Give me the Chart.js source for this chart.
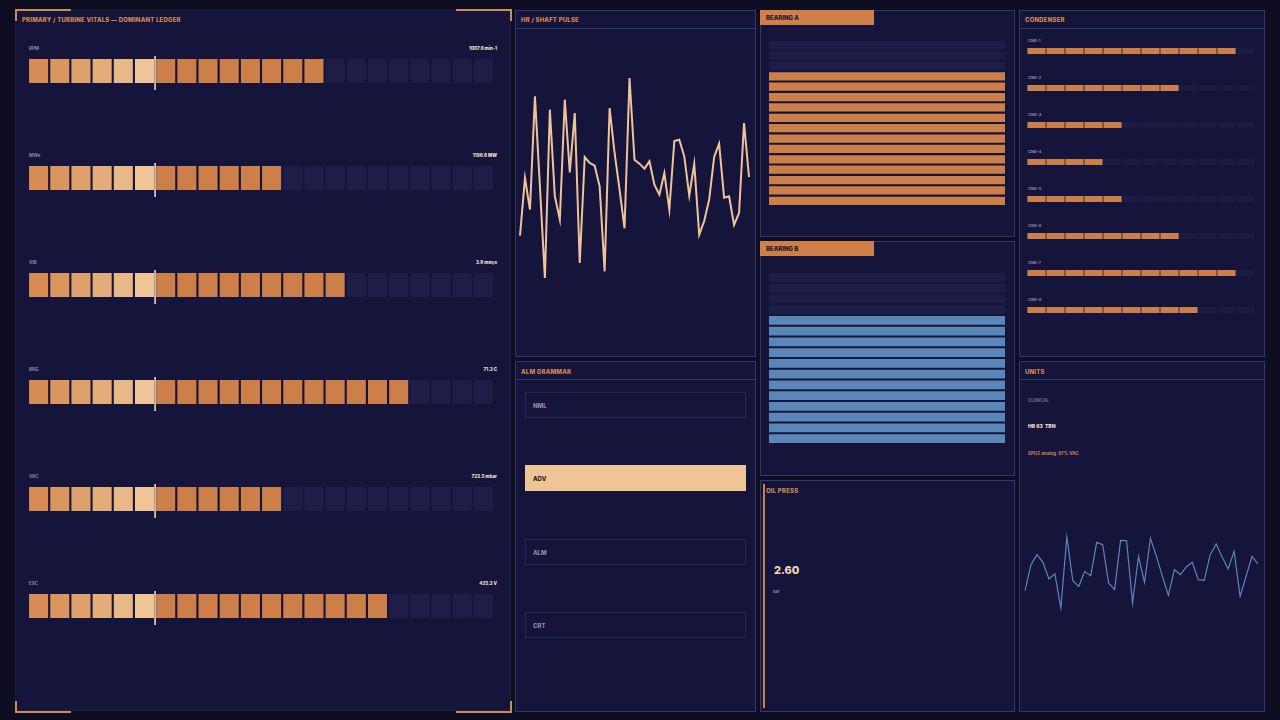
<!DOCTYPE html>
<html>
<head>
<meta charset="utf-8">
<script src="https://cdn.jsdelivr.net/npm/chart.js@4"></script>
<style>
  body { margin:0; width:1280px; height:720px; background:#0e0d22; font-family:Inter, "DejaVu Sans", sans-serif; overflow:hidden; position:relative; }
  .panel { position:absolute; background:#15143b; border:1px solid #2d3a6a; box-sizing:border-box; }
  .hdr { position:absolute; left:0; right:0; top:0; height:17px; border-bottom:1px solid #2d3a6a; }
  .t { position:absolute; font-size:6px; font-weight:800; color:#d08a55; letter-spacing:0.2px; white-space:nowrap; }
  .lbl { position:absolute; font-size:4.5px; font-weight:700; color:#8a87b0; white-space:nowrap; }
  .val { position:absolute; font-size:4.5px; font-weight:800; color:#efe3d6; white-space:nowrap; text-align:right; }
  canvas { position:absolute; }
  .tab { position:absolute; background:#cf8049; color:#1a1430; font-size:6px; font-weight:800; padding-left:6px; box-sizing:border-box; line-height:15px; }
  .opt { position:absolute; left:9px; width:221px; height:26px; border:1px solid #25295a; box-sizing:border-box; font-size:6px; font-weight:800; color:#8c88b0; padding-left:7px; line-height:25px; }
  .corner { position:absolute; width:54px; height:10px; border-color:#cf8a5a; border-style:solid; border-width:0; }
</style>
</head>
<body>
<div class="panel" style="left:15px;top:10px;width:496px;height:701px;border-color:#1d1c44"></div>
<div class="corner" style="left:15px;top:9px;border-top-width:2px;border-left-width:2px;"></div>
<div class="corner" style="left:456px;top:9px;border-top-width:2px;border-right-width:2px;"></div>
<div class="corner" style="left:15px;top:701px;border-bottom-width:2px;border-left-width:2px;"></div>
<div class="corner" style="left:456px;top:701px;border-bottom-width:2px;border-right-width:2px;"></div>
<div class="t" style="left:22px;top:16px;">PRIMARY / TURBINE VITALS — DOMINANT LEDGER</div>
<div id="rows"></div>

<div class="panel" style="left:515px;top:10px;width:241px;height:347px"><div class="hdr"></div><div class="t" style="left:5px;top:5px">HR / SHAFT PULSE</div></div>
<canvas id="hr" width="238" height="327" style="left:516px;top:28px"></canvas>

<div class="panel" style="left:515px;top:361px;width:241px;height:351px"><div class="hdr"></div><div class="t" style="left:5px;top:6px">ALM GRAMMAR</div>
  <div class="opt" style="top:30px">NML</div>
  <div class="opt" style="top:103px;background:#efc596;color:#2a1a20;border-color:#efc596">ADV</div>
  <div class="opt" style="top:177px">ALM</div>
  <div class="opt" style="top:250px">CRT</div>
</div>

<div class="panel" style="left:760px;top:10px;width:255px;height:227px"></div>
<div class="tab" style="left:760px;top:10px;width:114px;height:15px">BEARING A</div>
<canvas id="brgA" width="236" height="166" style="left:769px;top:40px"></canvas>
<div class="panel" style="left:760px;top:241px;width:255px;height:235px"></div>
<div class="tab" style="left:760px;top:241px;width:114px;height:15px">BEARING B</div>
<canvas id="brgB" width="236" height="172" style="left:769px;top:272px"></canvas>

<div class="panel" style="left:760px;top:480px;width:255px;height:232px"></div>
<div style="position:absolute;left:763px;top:484px;width:2px;height:224px;background:#c77e55"></div>
<div class="t" style="left:766px;top:487px">OIL PRESS</div>
<div style="position:absolute;left:774px;top:563px;font-size:11px;font-weight:800;color:#f2d6b6">2.60</div>
<div class="lbl" style="left:773px;top:589px;font-size:4px">bar</div>

<div class="panel" style="left:1019px;top:10px;width:246px;height:347px"><div class="hdr"></div><div class="t" style="left:5px;top:5px">CONDENSER</div></div>
<div id="cnd"></div>

<div class="panel" style="left:1019px;top:361px;width:246px;height:351px"><div class="hdr"></div><div class="t" style="left:5px;top:6px">UNITS</div>
  <div class="lbl" style="left:8px;top:36px;color:#6f6c9a">CLINICAL</div>
  <div class="val" style="left:8px;top:61px;font-size:5px">HR 63 &nbsp;TBN</div>
  <div class="lbl" style="left:8px;top:89px;color:#c98a5c">SPO2 analog &nbsp;97% VAC</div>
</div>
<canvas id="units" width="243" height="100" style="left:1020px;top:520px"></canvas>

<script>
// primary ledger
const rowNames = ['RPM', 'MWe', 'VIB', 'BRG', 'VAC', 'EXC'];
const rowValues = ['1007.6 min-1', '1198.6 MW', '3.8 mm/s', '71.3 C', '723.5 mbar', '425.3 V'];
const rowFilled = [14, 12, 15, 18, 12, 17];
const rowSegments = 22;
const warmSegments = 6;
const warmShades = ['#d78b55', '#db9660', '#dfa16c', '#e3ac79', '#e8b886', '#efc597'];

// condenser
const cndNames = ['CND-1', 'CND-2', 'CND-3', 'CND-4', 'CND-5', 'CND-6', 'CND-7', 'CND-8'];
const cndFilled = [11, 8, 5, 4, 5, 8, 11, 9];
const cndSegments = 12;

// bearings (segments counted top to bottom, empties on top)
const brgSegments = 16;
const brgAFilled = 13;
const brgBFilled = 12;

// traces
const hrPulse = [19.2, 36.5, 27, 61, 34, 6.5, 57, 31, 24, 60, 38.2, 56, 11, 42.8, 41, 40.2, 34, 8.5, 57.5, 44, 33, 21.4, 66.5, 42, 40.8, 39.3, 41.5, 34.5, 31.5, 38, 27, 47.6, 48, 43, 31.2, 40.8, 19.5, 23.6, 30, 42.8, 46.8, 30.6, 31, 22.4, 26, 53, 36.8];
const unitsTrace = [8.7, 16.5, 19.5, 17.2, 12.2, 13.7, 3.5, 24.8, 11.7, 10, 14.5, 13.2, 23.2, 22.5, 11, 9, 23.8, 23.7, 5, 19, 11.2, 24.4, 19, 13, 7.3, 15, 13.5, 15.8, 17.2, 12, 11.8, 19.5, 22.7, 18.8, 15.2, 20.5, 7, 13, 19, 16.7];

const ORANGE = '#cc7f48', EMPTY = '#1e1d47';

const hidden = { display: false };
function baseOpts(extra) {
  return Object.assign({
    responsive: false, animation: false, maintainAspectRatio: false,
    plugins: { legend: hidden, tooltip: { enabled: false } },
    scales: { x: hidden, y: hidden }
  }, extra);
}

const markerPlugin = {
  id: 'marker',
  afterDatasetsDraw(chart, args, o) {
    if (o.at == null) return;
    const x = chart.scales.x;
    const px = (x.getPixelForValue(o.at - 1) + x.getPixelForValue(o.at)) / 2;
    const c = chart.ctx;
    c.save(); c.strokeStyle = '#f4e2cc'; c.lineWidth = 1.5;
    c.beginPath(); c.moveTo(px, 4); c.lineTo(px, chart.height - 2); c.stroke(); c.restore();
  }
};

function segChart(canvas, total, filled, colorAt, opts) {
  const labels = Array.from({ length: total }, (_, i) => i);
  const colors = labels.map(i => colorAt(i, filled));
  return new Chart(canvas, {
    type: 'bar',
    data: { labels, datasets: [{ data: labels.map(() => 1), backgroundColor: colors, borderWidth: 0,
      barPercentage: opts.bp, categoryPercentage: 1 }] },
    options: baseOpts({ indexAxis: opts.axis || 'x', layout: { padding: opts.pad || 0 },
      scales: { x: Object.assign({ display: false }, opts.axis === 'y' ? { min: 0, max: 1 } : {}),
                y: Object.assign({ display: false }, opts.axis === 'y' ? {} : { min: 0, max: 1 }) },
      plugins: { legend: hidden, tooltip: { enabled: false }, marker: { at: opts.marker } } }),
    plugins: [markerPlugin]
  });
}

const rowsEl = document.getElementById('rows');
rowNames.forEach((name, r) => {
  const top = 49 + r * 107;
  rowsEl.insertAdjacentHTML('beforeend',
    `<div class="lbl" style="left:29px;top:${top - 3}px">${name}</div>` +
    `<div class="val" style="right:${1280 - 497}px;top:${top - 3}px">${rowValues[r]}</div>` +
    `<canvas id="row${r}" width="466" height="40" style="left:28px;top:${top + 3}px"></canvas>`);
  segChart(document.getElementById('row' + r), rowSegments, rowFilled[r],
    (i, f) => i >= f ? EMPTY : (i < warmSegments ? warmShades[i] : ORANGE),
    { bp: 0.9, pad: { top: 7, bottom: 9 }, marker: warmSegments });
});

const cndEl = document.getElementById('cnd');
cndNames.forEach((name, r) => {
  const top = 41 + r * 37;
  cndEl.insertAdjacentHTML('beforeend',
    `<div class="lbl" style="left:1028px;top:${top - 3}px;font-size:4px">${name}</div>` +
    `<canvas id="cnd${r}" width="228" height="8" style="left:1027px;top:${top + 6}px"></canvas>`);
  segChart(document.getElementById('cnd' + r), cndSegments, cndFilled[r],
    (i, f) => i < f ? ORANGE : '#1c1b44', { bp: 0.96, pad: { top: 1, bottom: 1 } });
});

segChart(document.getElementById('brgA'), brgSegments, brgAFilled,
  (i, f) => i >= brgSegments - f ? ORANGE : '#1e1d48', { axis: 'y', bp: 0.8 });
segChart(document.getElementById('brgB'), brgSegments, brgBFilled,
  (i, f) => i >= brgSegments - f ? '#5b86b8' : '#1e1d48', { axis: 'y', bp: 0.8 });

function lineChart(id, data, color, width, min, max, pad) {
  new Chart(document.getElementById(id), {
    type: 'line',
    data: { labels: data.map((_, i) => i), datasets: [{ data, borderColor: color, borderWidth: width, pointRadius: 0, tension: 0 }] },
    options: baseOpts({ layout: { padding: pad }, scales: { x: hidden, y: { display: false, min, max } } })
  });
}
lineChart('hr', hrPulse, '#f0c49a', 2, -16.6, 81.5, { left: 4, right: 5 });
lineChart('units', unitsTrace, '#5b86b8', 1.2, -0.1, 29.9, { left: 5, right: 5 });
</script>
</body>
</html>
